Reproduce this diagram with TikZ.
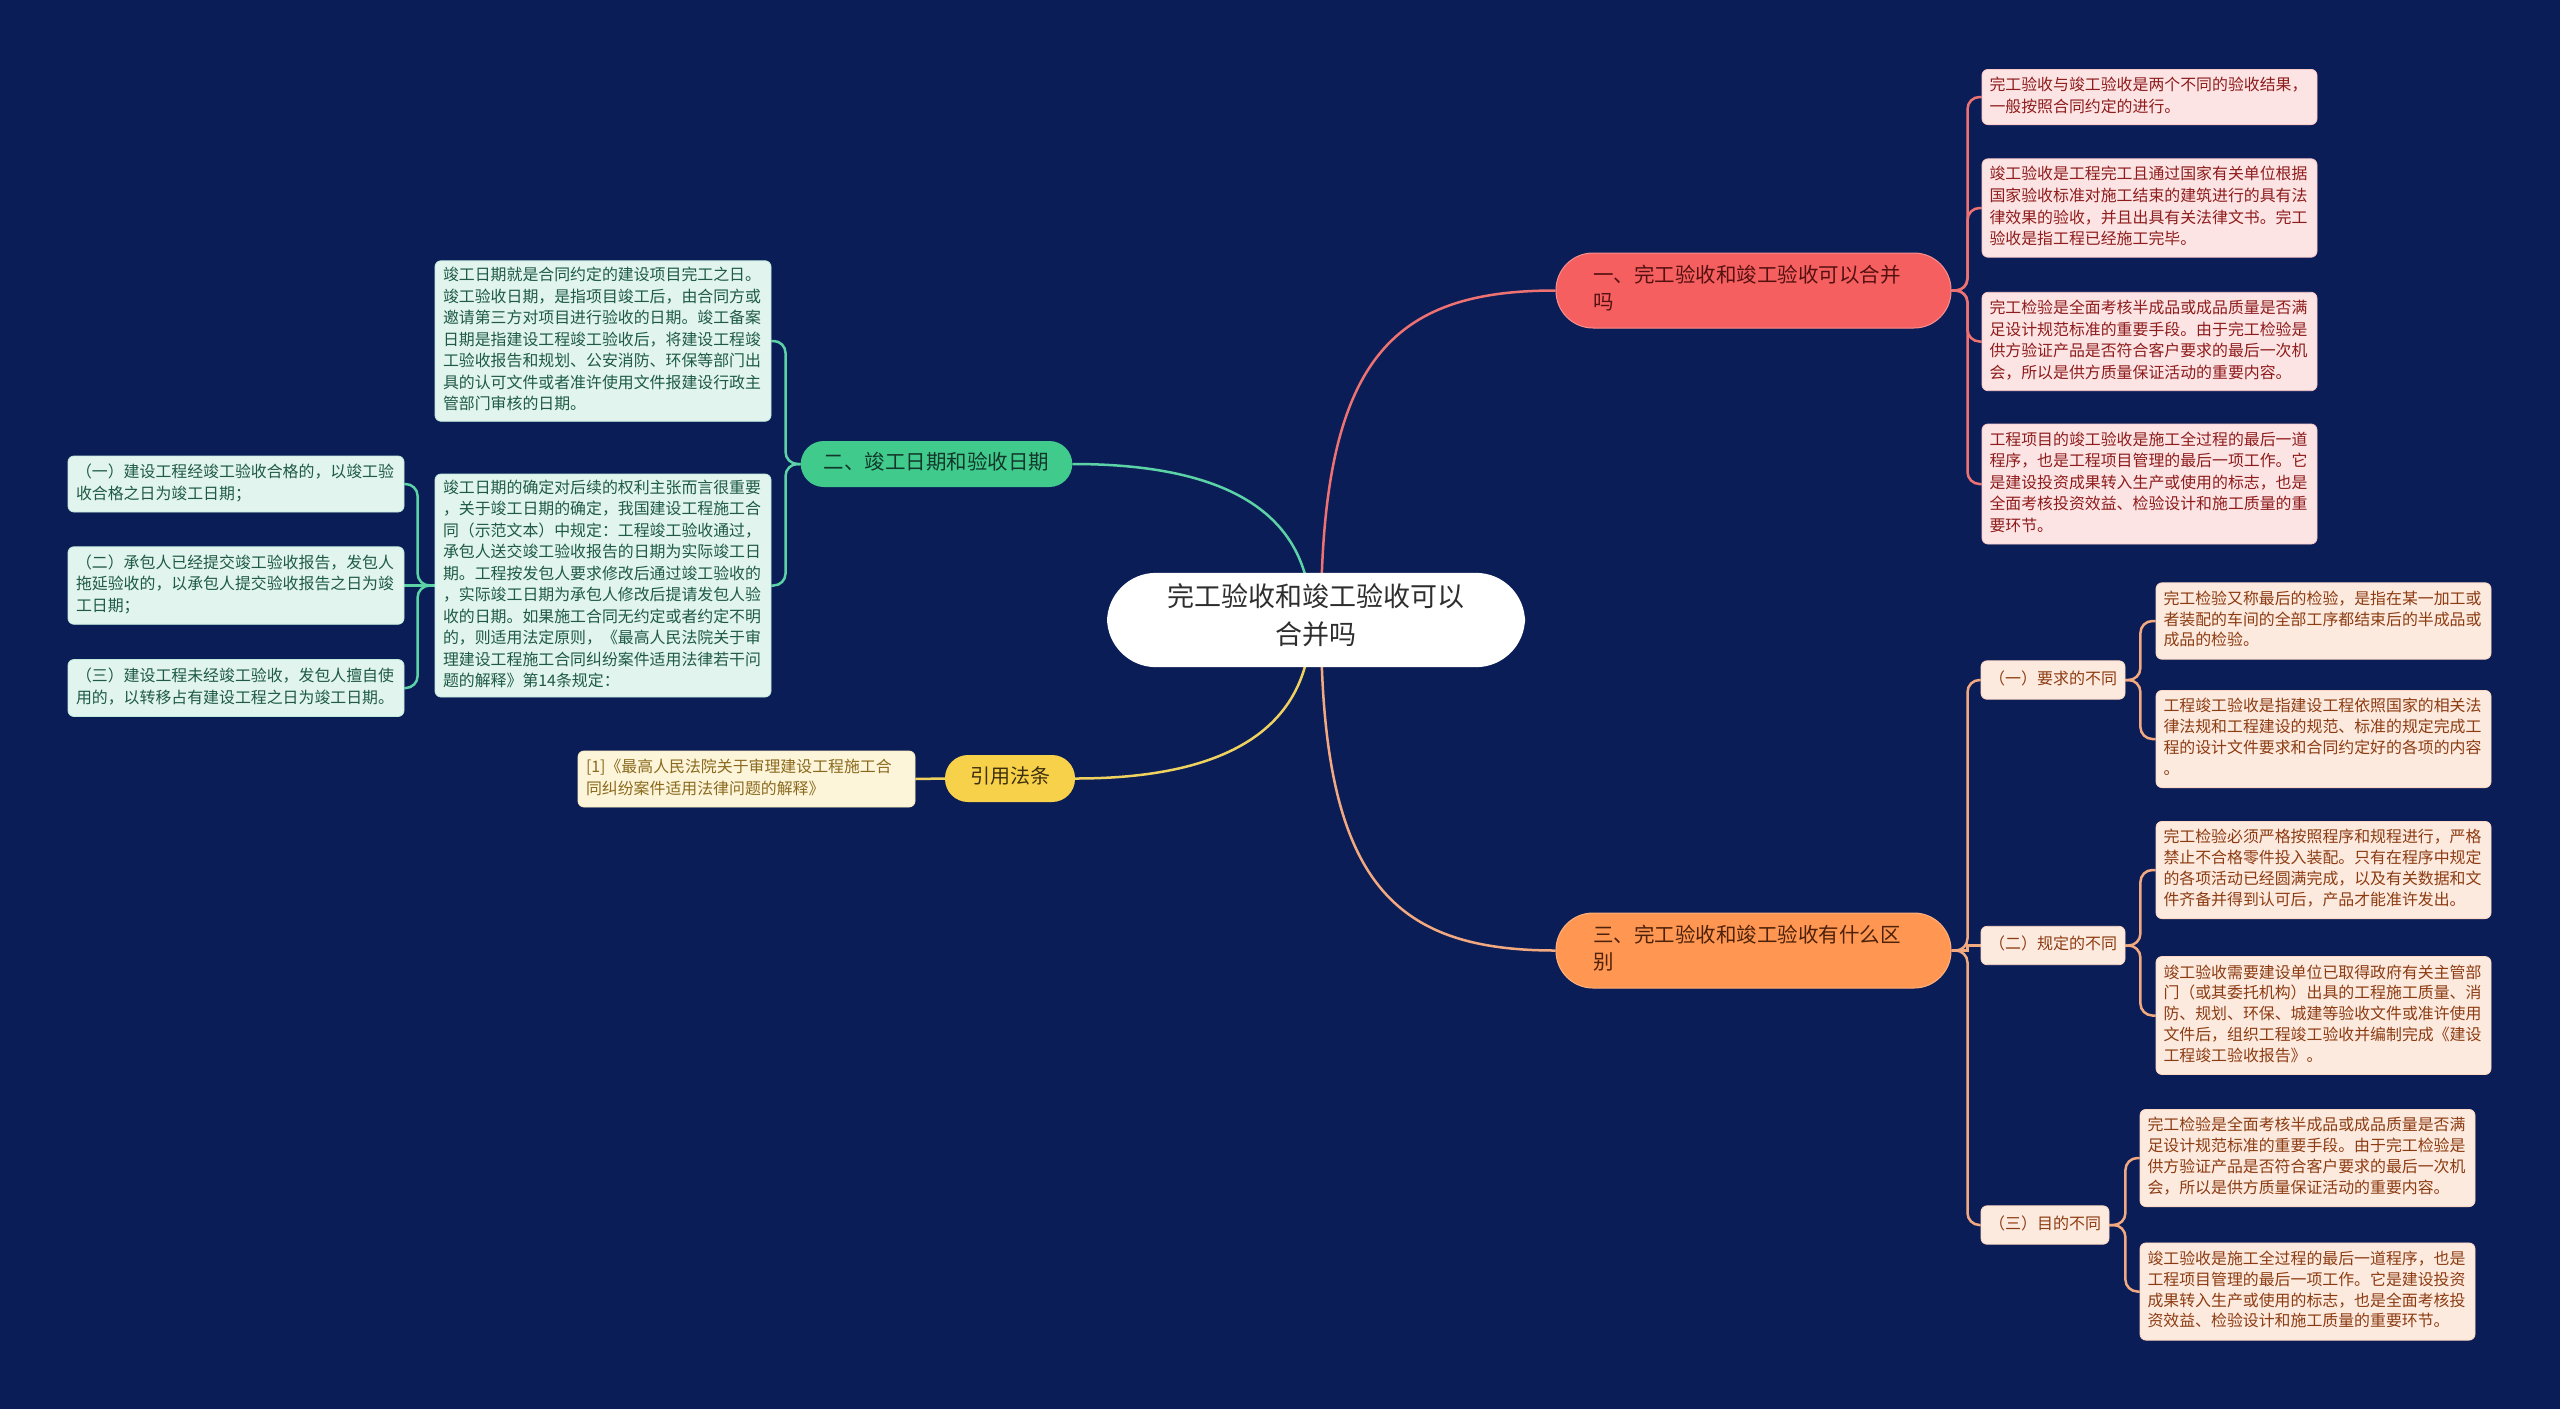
\documentclass[tikz,border=0pt]{standalone}
\usepackage{fontspec}
\newfontfamily\cjk{Noto Sans CJK SC}
\usetikzlibrary{calc}
\definecolor{bgcol}{HTML}{0B1D57}
\definecolor{redcol}{HTML}{F65F5F}
\definecolor{redlin}{HTML}{EE7272}
\definecolor{redpal}{HTML}{FDE4E4}
\definecolor{redtxt}{HTML}{8E1C1C}
\definecolor{grncol}{HTML}{40CB8D}
\definecolor{grnlin}{HTML}{5CD3A6}
\definecolor{grnpal}{HTML}{E1F4EE}
\definecolor{grntxt}{HTML}{1E5A46}
\definecolor{orgcol}{HTML}{FF9752}
\definecolor{orglin}{HTML}{F3A97F}
\definecolor{orgpal}{HTML}{FDEADF}
\definecolor{orgtxt}{HTML}{8C3C12}
\definecolor{ylwcol}{HTML}{F8D14B}
\definecolor{ylwlin}{HTML}{EFD160}
\definecolor{ylwpal}{HTML}{FDF5DA}
\definecolor{ylwtxt}{HTML}{8A6A1E}
\definecolor{darktxt}{HTML}{2E2E2E}
\pgfdeclarelayer{bg}
\pgfsetlayers{bg,main}

\begin{document}
\begin{tikzpicture}[x=1pt,y=-1pt,
  link/.style={line width=2.5pt},
  strutted/.style={execute at begin node=\strut,execute at end node=\strut},
  topic/.style={strutted,align=left,text width=321pt,inner xsep=37pt,inner ysep=10.5pt,
    rounded corners=37pt,line width=1pt,font=\cjk\fontsize{20.5}{27}\selectfont},
  pill/.style={strutted,align=center,rounded corners=23pt,font=\cjk\fontsize{20.5}{27}\selectfont},
  leaf/.style={strutted,align=left,rounded corners=6pt,line width=0.8pt},
  rleaf/.style={leaf,fill=redpal,draw=redpal!80!redcol,text=redtxt,text width=320pt,
    inner xsep=7.5pt,inner ysep=6pt,font=\cjk\fontsize{15.9}{21.6}\selectfont},
  gleaf/.style={leaf,fill=grnpal,draw=grnpal!80!grncol,text=grntxt,text width=320pt,
    inner xsep=8pt,inner ysep=5pt,font=\cjk\fontsize{15.9}{21.5}\selectfont},
  oleaf/.style={leaf,fill=orgpal,draw=orgpal!80!orgcol,text=orgtxt,text width=320pt,
    inner xsep=7.5pt,inner ysep=7pt,font=\cjk\fontsize{15.9}{20.8}\selectfont},
  osub/.style={leaf,fill=orgpal,draw=orgpal!80!orgcol,text=orgtxt,inner xsep=8pt,
    inner ysep=8.5pt,font=\cjk\fontsize{16}{21.4}\selectfont},
  yleaf/.style={leaf,fill=ylwpal,draw=ylwpal!80!ylwcol,text=ylwtxt,text width=321pt,
    inner xsep=8pt,inner ysep=6.3pt,font=\cjk\fontsize{15.9}{21.7}\selectfont}]
  \begin{pgfonlayer}{bg}
    \fill[bgcol] (0,0) rectangle (2560,1409);
  \end{pgfonlayer}
  \useasboundingbox (0,0) rectangle (2560,1409);

  % centre and main topics
  \node[strutted,fill=white,text=darktxt,align=center,minimum width=418pt,inner ysep=11pt,
    rounded corners=49pt,font=\cjk\fontsize{27}{38}\selectfont] (root) at (1316,620)
    {完工验收和竣工验收可以\\合并吗};
  \node[topic,fill=redcol,draw=redcol!70!white,text=redtxt!60!black] (sec1) at (1753.5,290.5)
    {一、完工验收和竣工验收可以合并\\吗};
  \node[topic,fill=orgcol,draw=orgcol!75!white,text=orgtxt!55!black] (sec3) at (1753.5,950.5)
    {三、完工验收和竣工验收有什么区\\别};
  \node[pill,fill=grncol,text=grntxt!60!black,inner xsep=23pt,inner ysep=9.5pt] (sec2) at (936.5,464)
    {二、竣工日期和验收日期};
  \node[pill,fill=ylwcol,text=ylwtxt!45!black,inner xsep=25pt,inner ysep=10pt,
    font=\cjk\fontsize{20}{27}\selectfont] (cite) at (1010,778.5) {引用法条};

  % right, red
  \node[rleaf] (s1a) at (2149.5,97) {完工验收与竣工验收是两个不同的验收结果，\\一般按照合同约定的进行。};
  \node[rleaf] (s1b) at (2149.5,208) {竣工验收是工程完工且通过国家有关单位根据\\国家验收标准对施工结束的建筑进行的具有法\\律效果的验收，并且出具有关法律文书。完工\\验收是指工程已经施工完毕。};
  \node[rleaf] (s1c) at (2149.5,341.5) {完工检验是全面考核半成品或成品质量是否满\\足设计规范标准的重要手段。由于完工检验是\\供方验证产品是否符合客户要求的最后一次机\\会，所以是供方质量保证活动的重要内容。};
  \node[rleaf] (s1d) at (2149.5,484) {工程项目的竣工验收是施工全过程的最后一道\\程序，也是工程项目管理的最后一项工作。它\\是建设投资成果转入生产或使用的标志，也是\\全面考核投资效益、检验设计和施工质量的重\\要环节。};

  % right, orange
  \node[osub] (q1) at (2053,680) {（一）要求的不同};
  \node[osub] (q2) at (2053,945.5) {（二）规定的不同};
  \node[osub] (q3) at (2045,1225) {（三）目的不同};
  \node[oleaf] (q1a) at (2323.5,621) {完工检验又称最后的检验，是指在某一加工或\\者装配的车间的全部工序都结束后的半成品或\\成品的检验。};
  \node[oleaf] (q1b) at (2323.5,739) {工程竣工验收是指建设工程依照国家的相关法\\律法规和工程建设的规范、标准的规定完成工\\程的设计文件要求和合同约定好的各项的内容\\。};
  \node[oleaf] (q2a) at (2323.5,870) {完工检验必须严格按照程序和规程进行，严格\\禁止不合格零件投入装配。只有在程序中规定\\的各项活动已经圆满完成，以及有关数据和文\\件齐备并得到认可后，产品才能准许发出。};
  \node[oleaf] (q2b) at (2323.5,1015.5) {竣工验收需要建设单位已取得政府有关主管部\\门（或其委托机构）出具的工程施工质量、消\\防、规划、环保、城建等验收文件或准许使用\\文件后，组织工程竣工验收并编制完成《建设\\工程竣工验收报告》。};
  \node[oleaf] (q3a) at (2307.5,1158) {完工检验是全面考核半成品或成品质量是否满\\足设计规范标准的重要手段。由于完工检验是\\供方验证产品是否符合客户要求的最后一次机\\会，所以是供方质量保证活动的重要内容。};
  \node[oleaf] (q3b) at (2307.5,1291.5) {竣工验收是施工全过程的最后一道程序，也是\\工程项目管理的最后一项工作。它是建设投资\\成果转入生产或使用的标志，也是全面考核投\\资效益、检验设计和施工质量的重要环节。};

  % left, green and yellow
  \node[gleaf] (d1) at (603,341) {竣工日期就是合同约定的建设项目完工之日。\\竣工验收日期，是指项目竣工后，由合同方或\\邀请第三方对项目进行验收的日期。竣工备案\\日期是指建设工程竣工验收后，将建设工程竣\\工验收报告和规划、公安消防、环保等部门出\\具的认可文件或者准许使用文件报建设行政主\\管部门审核的日期。};
  \node[gleaf,inner ysep=4pt] (d2) at (603,585.5) {竣工日期的确定对后续的权利主张而言很重要\\，关于竣工日期的确定，我国建设工程施工合\\同（示范文本）中规定：工程竣工验收通过，\\承包人送交竣工验收报告的日期为实际竣工日\\期。工程按发包人要求修改后通过竣工验收的\\，实际竣工日期为承包人修改后提请发包人验\\收的日期。如果施工合同无约定或者约定不明\\的，则适用法定原则，《最高人民法院关于审\\理建设工程施工合同纠纷案件适用法律若干问\\题的解释》第14条规定：};
  \node[gleaf,inner ysep=6.5pt] (d2a) at (236,484) {（一）建设工程经竣工验收合格的，以竣工验\\收合格之日为竣工日期；};
  \node[gleaf,inner ysep=6.5pt] (d2b) at (236,585.5) {（二）承包人已经提交竣工验收报告，发包人\\拖延验收的，以承包人提交验收报告之日为竣\\工日期；};
  \node[gleaf,inner ysep=7pt] (d2c) at (236,688) {（三）建设工程未经竣工验收，发包人擅自使\\用的，以转移占有建设工程之日为竣工日期。};
  \node[yleaf] (c1) at (746.5,779) {[1]《最高人民法院关于审理建设工程施工合\\同纠纷案件适用法律问题的解释》};

  \begin{pgfonlayer}{bg}
    \draw[link,redlin] ([xshift=5pt]root.center) .. controls +(0,-260) and +(-165,0) .. (sec1.west);
    \draw[link,orglin] ([xshift=5pt]root.center) .. controls +(0,260) and +(-165,0) .. (sec3.west);
    \draw[link,grnlin] ([xshift=-5pt]root.center) .. controls +(0,-110) and +(150,0) .. (sec2.east);
    \draw[link,ylwlin] ([xshift=-5pt]root.center) .. controls +(0,110) and +(150,0) .. (cite.east);
    \foreach \n in {s1a,s1b,s1c,s1d}
      \draw[link,redlin,rounded corners=12pt] (sec1.east) -- ++(16,0) |- (\n.west);
    \foreach \n in {q1,q3}
      \draw[link,orglin,rounded corners=12pt] (sec3.east) -- ++(16,0) |- (\n.west);
    \draw[link,orglin] (sec3.east) -- ++(16,0) |- (q2.west);
    \foreach \n in {q1a,q1b} \draw[link,orglin,rounded corners=12pt] (q1.east) -- ++(15,0) |- (\n.west);
    \foreach \n in {q2a,q2b} \draw[link,orglin,rounded corners=12pt] (q2.east) -- ++(15,0) |- (\n.west);
    \foreach \n in {q3a,q3b} \draw[link,orglin,rounded corners=12pt] (q3.east) -- ++(16,0) |- (\n.west);
    \foreach \n in {d1,d2} \draw[link,grnlin,rounded corners=12pt] (sec2.west) -- ++(-15,0) |- (\n.east);
    \foreach \n in {d2a,d2c} \draw[link,grnlin,rounded corners=12pt] (d2.west) -- ++(-17,0) |- (\n.east);
    \draw[link,grnlin] (d2.west) -- (d2b.east);
    \draw[link,ylwlin] (cite.west) -- (c1.east);
  \end{pgfonlayer}
\end{tikzpicture}
\end{document}
